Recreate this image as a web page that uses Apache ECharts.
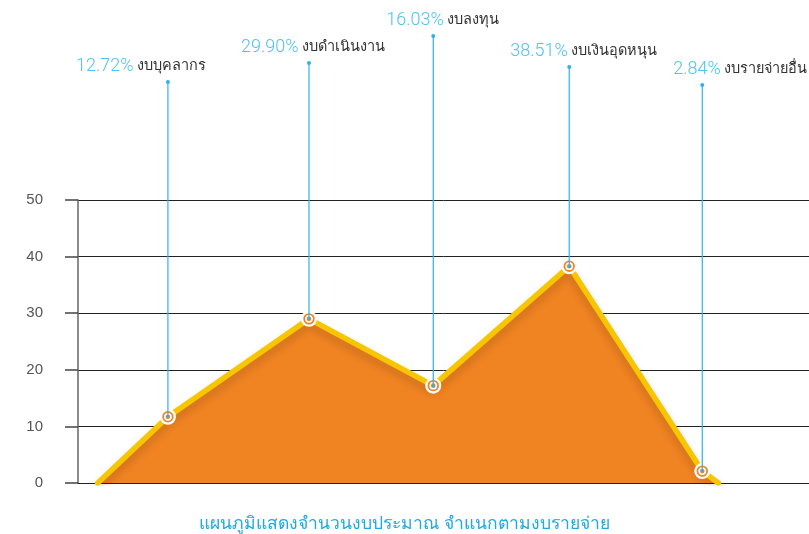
<!DOCTYPE html>
<html>
<head>
<meta charset="utf-8">
<script src="https://cdn.jsdelivr.net/npm/echarts@6/dist/echarts.min.js"></script>
<style>
  html,body{margin:0;padding:0;background:#fff;}
  #main{width:809px;height:534px;}
</style>
</head>
<body>
<div id="main"></div>
<script>
// ข้อมูลงบประมาณ
var names = ['งบบุคลากร', 'งบดำเนินงาน', 'งบลงทุน', 'งบเงินอุดหนุน', 'งบรายจ่ายอื่น'];
var percents = ['12.72%', '29.90%', '16.03%', '38.51%', '2.84%'];
var pointX = [12.3, 31.6, 48.6, 67.2, 85.4];
var pointY = [11.7, 29.0, 17.2, 38.3, 2.1];
var startX = 2.7, endX = 87.6;
var yTicks = [0, 10, 20, 30, 40, 50];

// ตำแหน่งป้ายข้อความ (layout)
var calloutTop = [82, 63, 36, 67, 85];
var labelLeft = [-92, -68, -47, -59, -29];

var chart = echarts.init(document.getElementById('main'));

var areaData = [[startX, 0]];
for (var i = 0; i < pointX.length; i++) areaData.push([pointX[i], pointY[i]]);
areaData.push([endX, 0]);

var calloutData = pointX.map(function (x, i) { return [x, pointY[i], i]; });

var option = {
  animation: false,
  title: {
    text: 'แผนภูมิแสดงจำนวนงบประมาณ จำแนกตามงบรายจ่าย',
    left: 'center',
    top: 510,
    textStyle: { color: '#1fa9e4', fontSize: 17.5, fontWeight: 'normal' }
  },
  grid: { left: 78, right: 0, top: 200, bottom: 51 },
  xAxis: {
    type: 'value', min: 0, max: 100,
    axisLine: { show: true, lineStyle: { color: '#222', width: 1 } },
    axisTick: { show: false }, axisLabel: { show: false }, splitLine: { show: false }
  },
  yAxis: [{
    type: 'value', min: yTicks[0], max: yTicks[yTicks.length - 1], interval: 10,
    offset: 12,
    axisLine: { show: false },
    axisTick: { show: true, length: 13, lineStyle: { color: '#444', width: 1.5 } },
    axisLabel: { margin: 23, color: '#555', fontSize: 15, fontFamily: 'Liberation Sans' },
    splitLine: { show: true, lineStyle: { color: '#222', width: 1 } }
  }, {
    type: 'value', min: 0, max: 50, interval: 10, position: 'left',
    axisLine: { show: true, lineStyle: { color: '#666', width: 1.5 } },
    axisTick: { show: false }, axisLabel: { show: false }, splitLine: { show: false }
  }],
  series: [{
    type: 'line',
    data: areaData,
    showSymbol: false,
    lineStyle: {
      color: '#f7c600', width: 5.5, cap: 'round',
      shadowColor: 'rgba(0,0,0,0.18)', shadowBlur: 8, shadowOffsetY: 5
    },
    areaStyle: { color: '#f08322', opacity: 1 },
    z: 2
  }, {
    type: 'custom',
    data: calloutData,
    clip: false,
    z: 5,
    renderItem: function (params, api) {
      var i = api.value(2);
      var p = api.coord([api.value(0), api.value(1)]);
      var top = calloutTop[i];
      return {
        type: 'group',
        children: [
          { type: 'circle', shape: { cx: p[0], cy: p[1], r: 8 }, style: { fill: '#fff' } },
          { type: 'circle', shape: { cx: p[0], cy: p[1], r: 4.8 }, style: { fill: '#fff', stroke: '#f08322', lineWidth: 1.8 } },
          { type: 'circle', shape: { cx: p[0], cy: p[1], r: 2.3 }, style: { fill: '#f08322' } },
          { type: 'line', shape: { x1: p[0], y1: top, x2: p[0], y2: p[1] }, style: { stroke: '#2cb3ea', lineWidth: 1.2 } },
          { type: 'circle', shape: { cx: p[0], cy: top, r: 2 }, style: { fill: '#2cb3ea' } },
          { type: 'circle', shape: { cx: p[0], cy: p[1], r: 1.5 }, style: { fill: '#2cb3ea' } },
          {
            type: 'text',
            style: {
              x: p[0] + labelLeft[i], y: top - 16,
              text: '{p|' + percents[i] + '} {n|' + names[i] + '}',
              align: 'left', verticalAlign: 'middle',
              rich: {
                p: { fontSize: 18, fontWeight: 300, fontFamily: 'Roboto', fill: '#4cc3f0' },
                n: { fontSize: 14.5, fill: '#333' }
              }
            }
          }
        ]
      };
    }
  }]
};

chart.setOption(option);
</script>
</body>
</html>
